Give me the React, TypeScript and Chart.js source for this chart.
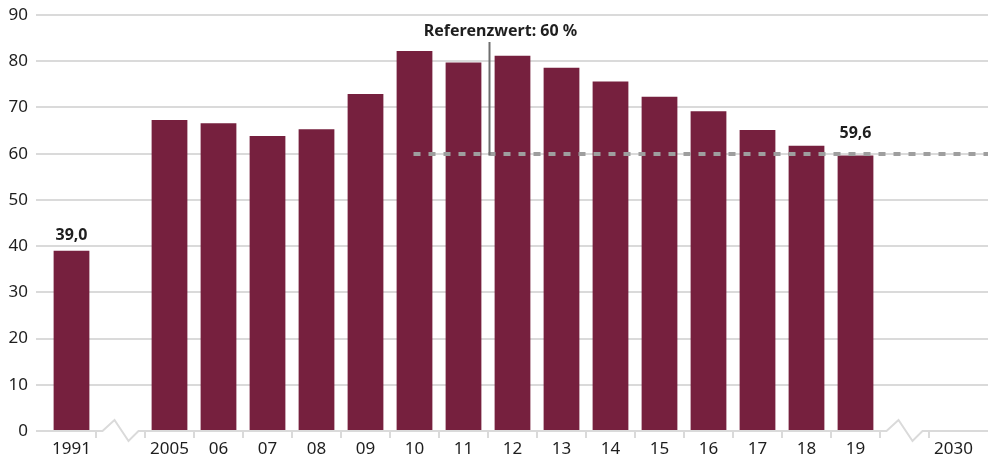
import React, { useEffect, useRef } from "react";
import { Chart, registerables } from "chart.js";

Chart.register(...registerables);

const categories = ["1991", "", "2005", "06", "07", "08", "09", "10", "11", "12", "13", "14", "15", "16", "17", "18", "19", "", "2030"];
const values: (number | null)[] = [39.0, null, 67.3, 66.6, 63.8, 65.3, 72.9, 82.2, 79.7, 81.2, 78.6, 75.6, 72.3, 69.2, 65.1, 61.7, 59.6, null, null];
const yTicks = [0, 10, 20, 30, 40, 50, 60, 70, 80, 90];
const referenceValue = 60;
const referenceLabel = "Referenzwert: 60 %";
const referenceStartIndex = 7;
const valueLabels = [
  { index: 0, text: "39,0", value: 39.0 },
  { index: 16, text: "59,6", value: 59.6 },
];
const breakIndices = [1, 17];

const FONT = "'Noto Sans', 'Open Sans', sans-serif";
const BAR_COLOR = "#76203e";
const GRID_COLOR = "#dadada";
const TEXT_COLOR = "#1e1e1e";

const decorPlugin = {
  id: "decor",
  beforeDatasetsDraw(chart: any) {
    const { ctx, chartArea, scales } = chart;
    const y = scales.y;
    ctx.save();
    ctx.strokeStyle = GRID_COLOR;
    ctx.lineWidth = 2;
    yTicks.forEach((t) => {
      if (t === 0) return;
      const py = Math.round(y.getPixelForValue(t));
      ctx.beginPath();
      ctx.moveTo(chartArea.left - 11, py);
      ctx.lineTo(chartArea.right + 10, py);
      ctx.stroke();
    });
    ctx.restore();
  },
  afterDatasetsDraw(chart: any) {
    const { ctx, chartArea, scales } = chart;
    const x = scales.x;
    const y = scales.y;
    const y0 = Math.round(y.getPixelForValue(0));
    const step = x.getPixelForValue(1) - x.getPixelForValue(0);
    ctx.save();
    // axis line with breaks
    ctx.strokeStyle = GRID_COLOR;
    ctx.lineWidth = 2;
    ctx.lineJoin = "miter";
    ctx.beginPath();
    ctx.moveTo(chartArea.left - 11, y0);
    breakIndices.forEach((bi) => {
      const c = x.getPixelForValue(bi);
      ctx.lineTo(c - 18, y0);
      ctx.lineTo(c - 6, y0 - 11);
      ctx.lineTo(c + 8, y0 + 10);
      ctx.lineTo(c + 18, y0);
    });
    ctx.lineTo(chartArea.right + 10, y0);
    ctx.stroke();
    // ticks between categories
    for (let i = 0; i < categories.length - 1; i++) {
      const px = Math.round(x.getPixelForValue(i) + step / 2);
      ctx.beginPath();
      ctx.moveTo(px, y0);
      ctx.lineTo(px, y0 + 7);
      ctx.stroke();
    }
    // reference line
    const ry = Math.round(y.getPixelForValue(referenceValue));
    ctx.strokeStyle = "#9e9e9e";
    ctx.lineWidth = 4;
    ctx.setLineDash([7, 8]);
    ctx.beginPath();
    ctx.moveTo(x.getPixelForValue(referenceStartIndex) - 1, ry);
    ctx.lineTo(chartArea.right + 10, ry);
    ctx.stroke();
    ctx.setLineDash([]);
    // annotation pointer
    const lx = Math.round(x.getPixelForValue(8) + step / 2) + 1.5;
    ctx.strokeStyle = "#6e6e6e";
    ctx.lineWidth = 2;
    ctx.beginPath();
    ctx.moveTo(lx, 42);
    ctx.lineTo(lx, ry + 1);
    ctx.stroke();
    ctx.fillStyle = TEXT_COLOR;
    ctx.font = `bold 16px ${FONT}`;
    ctx.textAlign = "center";
    ctx.textBaseline = "middle";
    ctx.fillText(referenceLabel, lx + 11, 31);
    // value labels
    valueLabels.forEach((l) => {
      const px = x.getPixelForValue(l.index);
      const top = y.getPixelForValue(l.value);
      const py = l.index === 0 ? top - 15 : top - 22;
      ctx.fillText(l.text, px, py);
    });
    ctx.restore();
  },
};

export default function App() {
  const ref = useRef<HTMLCanvasElement | null>(null);
  useEffect(() => {
    document.body.style.margin = "0";
    const canvas = ref.current;
    if (!canvas) return;
    const chart = new Chart(canvas, {
      type: "bar",
      data: {
        labels: categories,
        datasets: [
          {
            data: values as any,
            backgroundColor: BAR_COLOR,
            barPercentage: 0.73,
            categoryPercentage: 1,
          },
        ],
      },
      options: {
        responsive: false,
        animation: false,
        layout: { padding: { top: 15, right: 11, left: 0, bottom: 0 } },
        plugins: { legend: { display: false }, tooltip: { enabled: false } },
        scales: {
          x: {
            grid: { display: false, drawTicks: false },
            border: { display: false },
            ticks: {
              color: TEXT_COLOR,
              font: { family: FONT, size: 17 },
              padding: 8,
              maxRotation: 0,
              autoSkip: false,
            },
            afterFit(scale: any) {
              scale.height = 29;
              scale.paddingLeft = 0;
              scale.paddingRight = 0;
            },
          },
          y: {
            min: 0,
            max: 90,
            grid: { display: false, drawTicks: false },
            border: { display: false },
            ticks: {
              stepSize: 10,
              color: TEXT_COLOR,
              font: { family: FONT, size: 17 },
              padding: 19,
            },
            afterFit(scale: any) {
              scale.width = 47;
              scale.paddingTop = 0;
              scale.paddingBottom = 0;
            },
          },
        },
      },
      plugins: [decorPlugin],
    });
    return () => chart.destroy();
  }, []);
  return (
    <div style={{ width: 989, height: 460 }}>
      <canvas ref={ref} width={989} height={460} style={{ display: "block" }} />
    </div>
  );
}
